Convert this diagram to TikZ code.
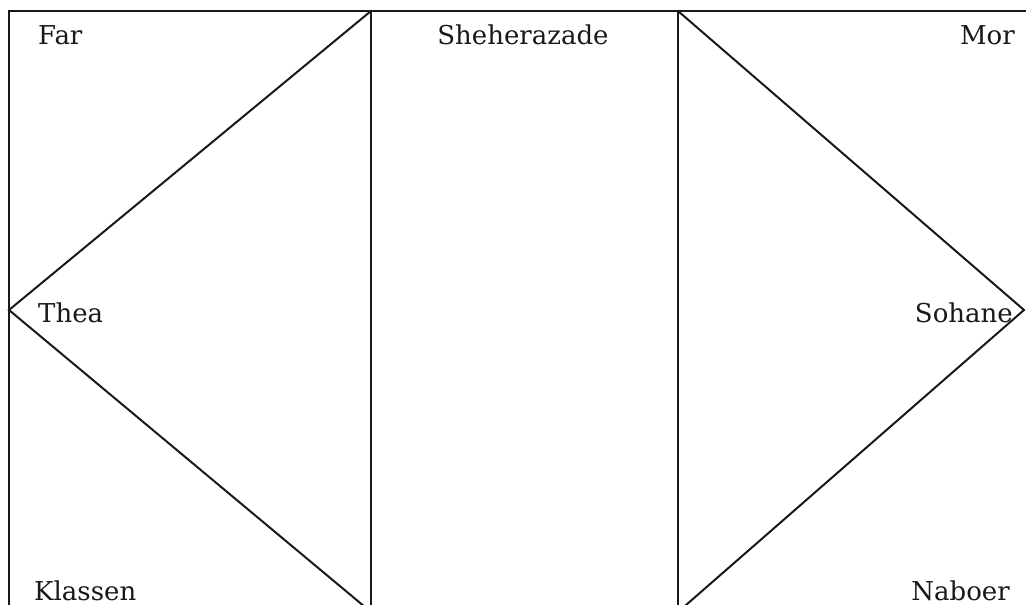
\documentclass[tikz,border=0pt]{standalone}
\usepackage{fontspec}
\setmainfont{DejaVu Serif}
\usepackage{tikz}
\usetikzlibrary{positioning}
\tikzset{
  namelabel/.style={
    inner sep=0pt,
    font=\fontsize{26}{31}\selectfont,
    text=black!90
  },
  borderline/.style={line width=2.2pt, black!90},
  diagline/.style={line width=2pt, black!90}
}

\begin{document}
\begin{tikzpicture}[x=1pt, y=-1pt]
\useasboundingbox (0,0) rectangle (1026,605);
\clip (0,0) rectangle (1026,605);

% corners and vertices
\coordinate (topleft) at (9,11);
\coordinate (topright) at (1040,11);
\coordinate (bottomleft) at (9,640);
\coordinate (midtop) at (371,11);
\coordinate (midbottom) at (371,640);
\coordinate (righttop) at (678,11);
\coordinate (rightbottom) at (678,640);
\coordinate (theavertex) at (9,310);
\coordinate (leftfoot) at (371,612);
\coordinate (sohanevertex) at (1024,310);
\coordinate (rightfoot) at (678,612);

\node[namelabel, anchor=base west] (far) at (38,45) {Far};
\node[namelabel, anchor=base] (sheherazade) at (523,45) {Sheherazade};
\node[namelabel, anchor=base east] (mor) at (1015,45) {Mor};
\node[namelabel, anchor=base west] (thea) at (38,322) {Thea};
\node[namelabel, anchor=base east] (sohane) at (1013,322) {Sohane};
\node[namelabel, anchor=base west] (klassen) at (34,600) {Klassen};
\node[namelabel, anchor=base east] (naboer) at (1010,600) {Naboer};

\draw[borderline] (bottomleft) -- (topleft) -- (topright);
\draw[borderline] (midtop) -- (midbottom);
\draw[borderline] (righttop) -- (rightbottom);

\draw[diagline] (midtop) -- (theavertex) -- (leftfoot);
\draw[diagline] (righttop) -- (sohanevertex) -- (rightfoot);
\end{tikzpicture}
\end{document}
